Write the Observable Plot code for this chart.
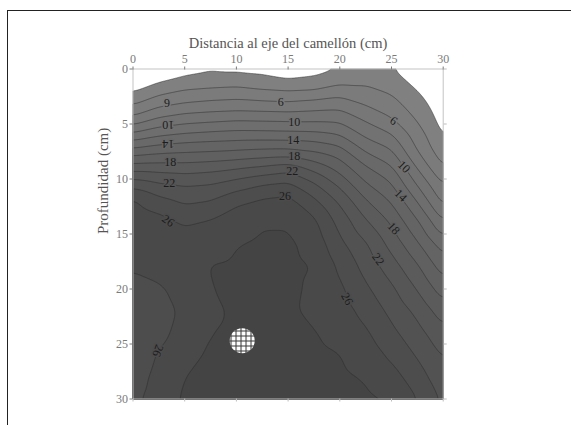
<!DOCTYPE html>
<html><head><meta charset="utf-8">
<script src="https://cdn.jsdelivr.net/npm/d3@7"></script>
<script src="https://cdn.jsdelivr.net/npm/@observablehq/plot@0.6"></script>
<style>
body{margin:0;background:#fff;}
#wrap{position:relative;width:571px;height:425px;overflow:hidden;}
#border{position:absolute;left:7px;top:10px;width:700px;height:500px;border-top:1.5px solid #222;border-left:1.5px solid #222;}
#chart{position:absolute;left:0;top:0;}
#chart svg, #chart svg text, #chart svg g{font-family:"Liberation Serif","Tinos","DejaVu Serif",serif !important;}
</style></head><body>
<div id="wrap"><div id="border"></div><div id="chart"></div></div>
<script>
// distance from ridge axis (cm), columns of the grid
const distCm = [0, 2.5, 5, 7.5, 10, 12.5, 15, 17.5, 20, 22.5, 25, 27.5, 30];
// depth (cm), rows of the grid
const depthCm = [0,1,2,3,4,5,6,7,8,9,10,11,12,13,14,16,18,20,22,24,26,28,30];
// values, one array per distance column (top to bottom)
const moistureByColumn = [
  [0, 0.5, 1.8, 3.5, 5.4, 7.75, 10.6, 13.4, 16.3, 19.1, 22, 24.4, 26.4, 26.7, 27, 27, 26.3, 25, 23.8, 23.9, 24.5, 25.1, 25.6],
  [0.5, 1.6, 3.3, 5.1, 7.1, 9.3, 11.75, 14.25, 16.75, 19.1, 21.3, 23.1, 24.6, 26, 26.5, 27.2, 26.8, 25.7, 25.0, 25.4, 26.2, 26.6, 26.8],
  [1.3, 2.4, 4.2, 5.8, 7.9, 10, 12.35, 14.7, 16.9, 19, 20.9, 22.5, 23.6, 24.8, 25.9, 26.6, 26.9, 26.8, 26.5, 26.8, 27.3, 28, 28.3],
  [1.7, 2.7, 4.5, 6.2, 8.2, 10.35, 12.7, 14.9, 17.1, 19.3, 21.2, 22.75, 24, 25.25, 26.3, 27.3, 28.1, 27.95, 27.6, 27.95, 28.3, 28.5, 28.6],
  [1.5, 2.9, 4.7, 6.4, 8.4, 10.7, 12.9, 15.1, 17.4, 19.8, 22, 23.8, 25.6, 26.4, 26.9, 27.95, 28.25, 28.3, 28.3, 28.4, 28.5, 28.6, 28.6],
  [1.4, 2.55, 4.2, 6.2, 8.3, 10.6, 12.9, 15.3, 17.75, 20.4, 22.8, 24.9, 26.3, 27.0, 27.8, 28.4, 28.6, 28.6, 28.6, 28.7, 28.7, 28.8, 28.8],
  [1.0, 2.0, 4.0, 6.0, 8.2, 10.5, 12.8, 15.3, 18, 21.1, 23.4, 25.3, 26.6, 27.3, 27.8, 28.4, 28.5, 28.5, 28.3, 28.6, 28.7, 28.8, 28.8],
  [1.5, 2.2, 4.2, 6.4, 8.4, 10.4, 12.7, 14.9, 17.1, 19.3, 21.4, 23.1, 24.4, 25.7, 26.5, 27.3, 27.95, 27.6, 27.6, 28.1, 28.4, 28.5, 28.6],
  [1.9, 3.3, 5, 6.8, 8.5, 10.2, 12, 14, 15.7, 17.2, 18.8, 20.3, 21.6, 22.6, 23.4, 24.6, 25.7, 26.4, 26.9, 27.4, 28.05, 28.3, 28.4],
  [2.6, 3.5, 4.5, 5.6, 6.9, 8.3, 9.6, 11.1, 12.7, 14.3, 15.6, 16.9, 18.2, 19.3, 20.4, 22.3, 23.35, 24.4, 25.4, 26.3, 27.15, 27.9, 28.3],
  [2.1, 2.8, 3.7, 4.6, 5.5, 6.7, 8.15, 9.6, 10.9, 12.3, 13.6, 14.7, 15.8, 16.8, 17.8, 19.4, 21.0, 22.4, 23.5, 24.5, 25.6, 26.8, 28],
  [0.6, 1.3, 2.0, 2.7, 3.4, 4.15, 5.1, 5.6, 6.6, 7.9, 9.2, 10.5, 11.9, 13.2, 14.4, 16.4, 18.3, 19.9, 21.5, 22.7, 23.8, 24.9, 26],
  [0, 0.2, 0.5, 0.8, 1.1, 1.4, 1.8, 2.4, 3.2, 4, 5.3, 6.5, 7.4, 8.7, 10.3, 13.1, 15.1, 17, 19, 20.6, 21.8, 22.7, 23.6]
];
const levels = [2,4,6,8,10,12,14,16,18,20,22,24,26,28];
const xTicks = [0,5,10,15,20,25,30];
const yTicks = [0,5,10,15,20,25,30];
const xTitle = "Distancia al eje del camellón (cm)";
const yTitle = "Profundidad (cm)";
// contour labels
const labelText  = ["6","10","14","18","22","26","6","10","14","18","22","26","6","10","14","18","22","26","26"];
const labelX     = [3.3,3.4,3.4,3.6,3.5,3.4, 14.3,15.6,15.5,15.6,15.4,14.7, 25.2,26.2,25.9,25.2,23.7,20.7, 2.4];
const labelY     = [3.1,5.1,6.8,8.5,10.4,13.8, 3.0,4.85,6.5,7.95,9.3,11.6, 4.7,8.9,11.5,14.5,17.3,20.9, 25.6];
const labelAngle = [180,180,180,0,0,35, 0,0,0,0,0,0, 35,45,45,48,55,62, 110];
// hatched marker
const markX = [10.56];
const markY = [24.7];

const points = [];
distCm.forEach((x, i) => depthCm.forEach((y, j) => points.push({x, y, v: moistureByColumn[i][j]})));
const labels = labelText.map((t, i) => ({t, x: labelX[i], y: labelY[i], a: labelAngle[i], v: +t - 1}));
const marker = markX.map((x, i) => ({x, y: markY[i]}));
const serif = "Liberation Serif, Tinos, DejaVu Serif, serif";

const plot = Plot.plot({
  width: 571, height: 425,
  marginLeft: 132.5, marginRight: 128.3, marginTop: 68.5, marginBottom: 26.5,
  style: {fontFamily: serif, background: "transparent"},
  x: {domain: [0, 30]},
  y: {domain: [0, 30], reverse: true},
  color: {type: "linear", domain: [2, 28], range: ["#808080", "#444444"]},
  marks: [
    Plot.contour(points, {x: "x", y: "y", fill: "v", interpolate: "barycentric", thresholds: levels,
      stroke: "#2b2b2b", strokeWidth: 0.7, strokeOpacity: 0.75, pixelSize: 1, blur: 4}),
    Plot.frame({stroke: "#c4c4c4"}),
    Plot.dot(marker, {x: "x", y: "y", r: 12.5, fill: "url(#hatch)", stroke: "none"}),
    Plot.text(labels, {x: "x", y: "y", text: "t", rotate: "a", fontSize: 12, fontFamily: serif, fill: "#1c1c1c",
      stroke: "v", strokeWidth: 3, paintOrder: "stroke"}),
    Plot.axisX({anchor: "top", ticks: xTicks, tickSize: 3, tickPadding: 3, fontSize: 12, fontFamily: serif, color: "#7a7a7a", label: null}),
    Plot.axisX({anchor: "bottom", ticks: xTicks, tickSize: 3, tickFormat: () => "", color: "#bdbdbd", label: null}),
    Plot.axisY({anchor: "left", ticks: yTicks, tickSize: 3, tickPadding: 2, fontSize: 12, fontFamily: serif, color: "#7a7a7a", label: null}),
    Plot.axisY({anchor: "right", ticks: yTicks, tickSize: 3, tickFormat: () => "", color: "#bdbdbd", label: null}),
    Plot.text([xTitle], {frameAnchor: "top", dy: -31, fontSize: 14.5, fontFamily: serif, fill: "#555"}),
    Plot.text([yTitle], {frameAnchor: "left", dx: -30, rotate: -90, fontSize: 15, fontFamily: serif, fill: "#555"})
  ]
});
const ns = "http://www.w3.org/2000/svg";
const defs = document.createElementNS(ns, "defs");
defs.innerHTML = '<pattern id="hatch" patternUnits="userSpaceOnUse" width="5" height="5"><rect width="5" height="5" fill="#fff"/><path d="M0 0.5H5M0.5 0V5" stroke="#3a3a3a" stroke-width="1.1"/></pattern>';
plot.insertBefore(defs, plot.firstChild);
document.getElementById("chart").appendChild(plot);
</script>
</body></html>
